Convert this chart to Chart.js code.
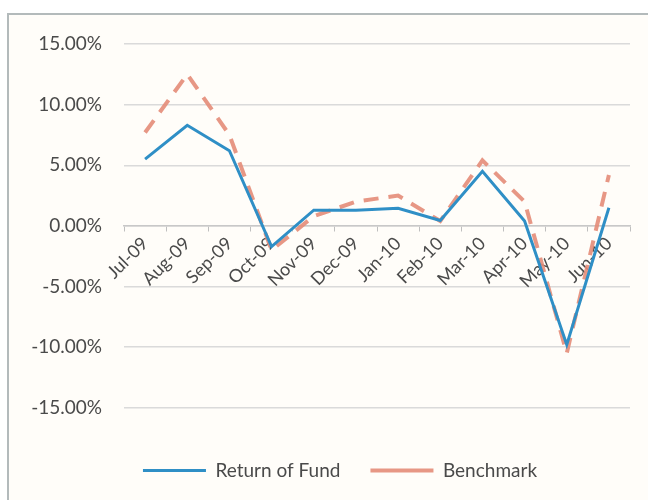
<!DOCTYPE html>
<html>
<head>
<meta charset="utf-8">
<script src="https://cdn.jsdelivr.net/npm/chart.js@4/dist/chart.umd.min.js"></script>
<style>
  html, body { margin: 0; padding: 0; background: #ffffff; }
  #wrap { position: relative; width: 648px; height: 500px; }
</style>
</head>
<body>
<div id="wrap"><canvas id="c" width="648" height="500"></canvas></div>
<script>
const categories = ['Jul-09','Aug-09','Sep-09','Oct-09','Nov-09','Dec-09','Jan-10','Feb-10','Mar-10','Apr-10','May-10','Jun-10'];
const fundReturns = [5.5, 8.3, 6.2, -1.7, 1.3, 1.3, 1.45, 0.45, 4.5, 0.4, -9.8, 1.5];
const benchmarkReturns = [7.7, 12.5, 7.5, -2.0, 0.8, 2.0, 2.5, 0.4, 5.4, 2.0, -10.5, 4.2];
const yTicks = [-15, -10, -5, 0, 5, 10, 15];
const seriesNames = ['Return of Fund', 'Benchmark'];

const FONT = 'Lato';
const TEXT = '#4a4a4a';

const framePlugin = {
  id: 'frame',
  afterLayout(chart) {
    if (chart.legend) {
      chart.legend.left += 15;
      chart.legend.right += 15;
    }
  },
  beforeDraw(chart) {
    const ctx = chart.ctx;
    ctx.save();
    ctx.fillStyle = '#fffdf9';
    ctx.fillRect(9, 14, 640, 490);
    ctx.strokeStyle = '#b3babb';
    ctx.lineWidth = 2;
    ctx.beginPath();
    ctx.moveTo(8, 505);
    ctx.lineTo(8, 14);
    ctx.lineTo(650, 14);
    ctx.stroke();
    ctx.restore();
  }
};

new Chart(document.getElementById('c'), {
  type: 'line',
  data: {
    labels: categories,
    datasets: [
      {
        label: seriesNames[0],
        data: fundReturns,
        borderColor: '#2f8fc6',
        backgroundColor: '#2f8fc6',
        borderWidth: 3,
        pointRadius: 0,
        tension: 0,
        order: 1
      },
      {
        label: seriesNames[1],
        data: benchmarkReturns,
        borderColor: 'rgba(228,140,120,0.9)',
        backgroundColor: 'rgba(228,140,120,0.9)',
        borderWidth: 4,
        borderDash: [15, 10],
        pointRadius: 0,
        tension: 0,
        order: 2
      }
    ]
  },
  options: {
    responsive: false,
    animation: false,
    layout: { padding: { left: 20, right: 18, top: 44, bottom: 10 } },
    plugins: {
      tooltip: { enabled: false },
      legend: {
        position: 'bottom',
        title: { display: true, text: '', padding: { top: 0, bottom: 22 }, font: { size: 1 } },
        labels: {
          usePointStyle: true,
          pointStyle: 'line',
          pointStyleWidth: 63,
          padding: 30,
          color: TEXT,
          font: { family: FONT, size: 19 }
        }
      }
    },
    scales: {
      x: {
        type: 'category',
        position: { y: 0 },
        offset: true,
        grid: {
          display: true,
          offset: true,
          drawOnChartArea: false,
          drawTicks: true,
          tickLength: 5,
          color: '#bfbfbf',
          lineWidth: 1
        },
        border: { display: true, color: '#c8c8c8', width: 1.5 },
        ticks: {
          minRotation: 45,
          maxRotation: 45,
          autoSkip: false,
          color: TEXT,
          padding: 2,
          font: { family: FONT, size: 18 }
        }
      },
      y: {
        min: -15,
        max: 15,
        afterBuildTicks(scale) { scale.ticks = yTicks.map(v => ({ value: v })); },
        afterFit(scale) { scale.width = 104; },
        grid: {
          color: '#dadada',
          lineWidth: 1.5,
          drawTicks: false
        },
        border: { display: false },
        ticks: {
          color: TEXT,
          padding: 22,
          font: { family: FONT, size: 19 },
          callback: v => v.toFixed(2) + '%'
        }
      }
    }
  },
  plugins: [framePlugin]
});
</script>
</body>
</html>
